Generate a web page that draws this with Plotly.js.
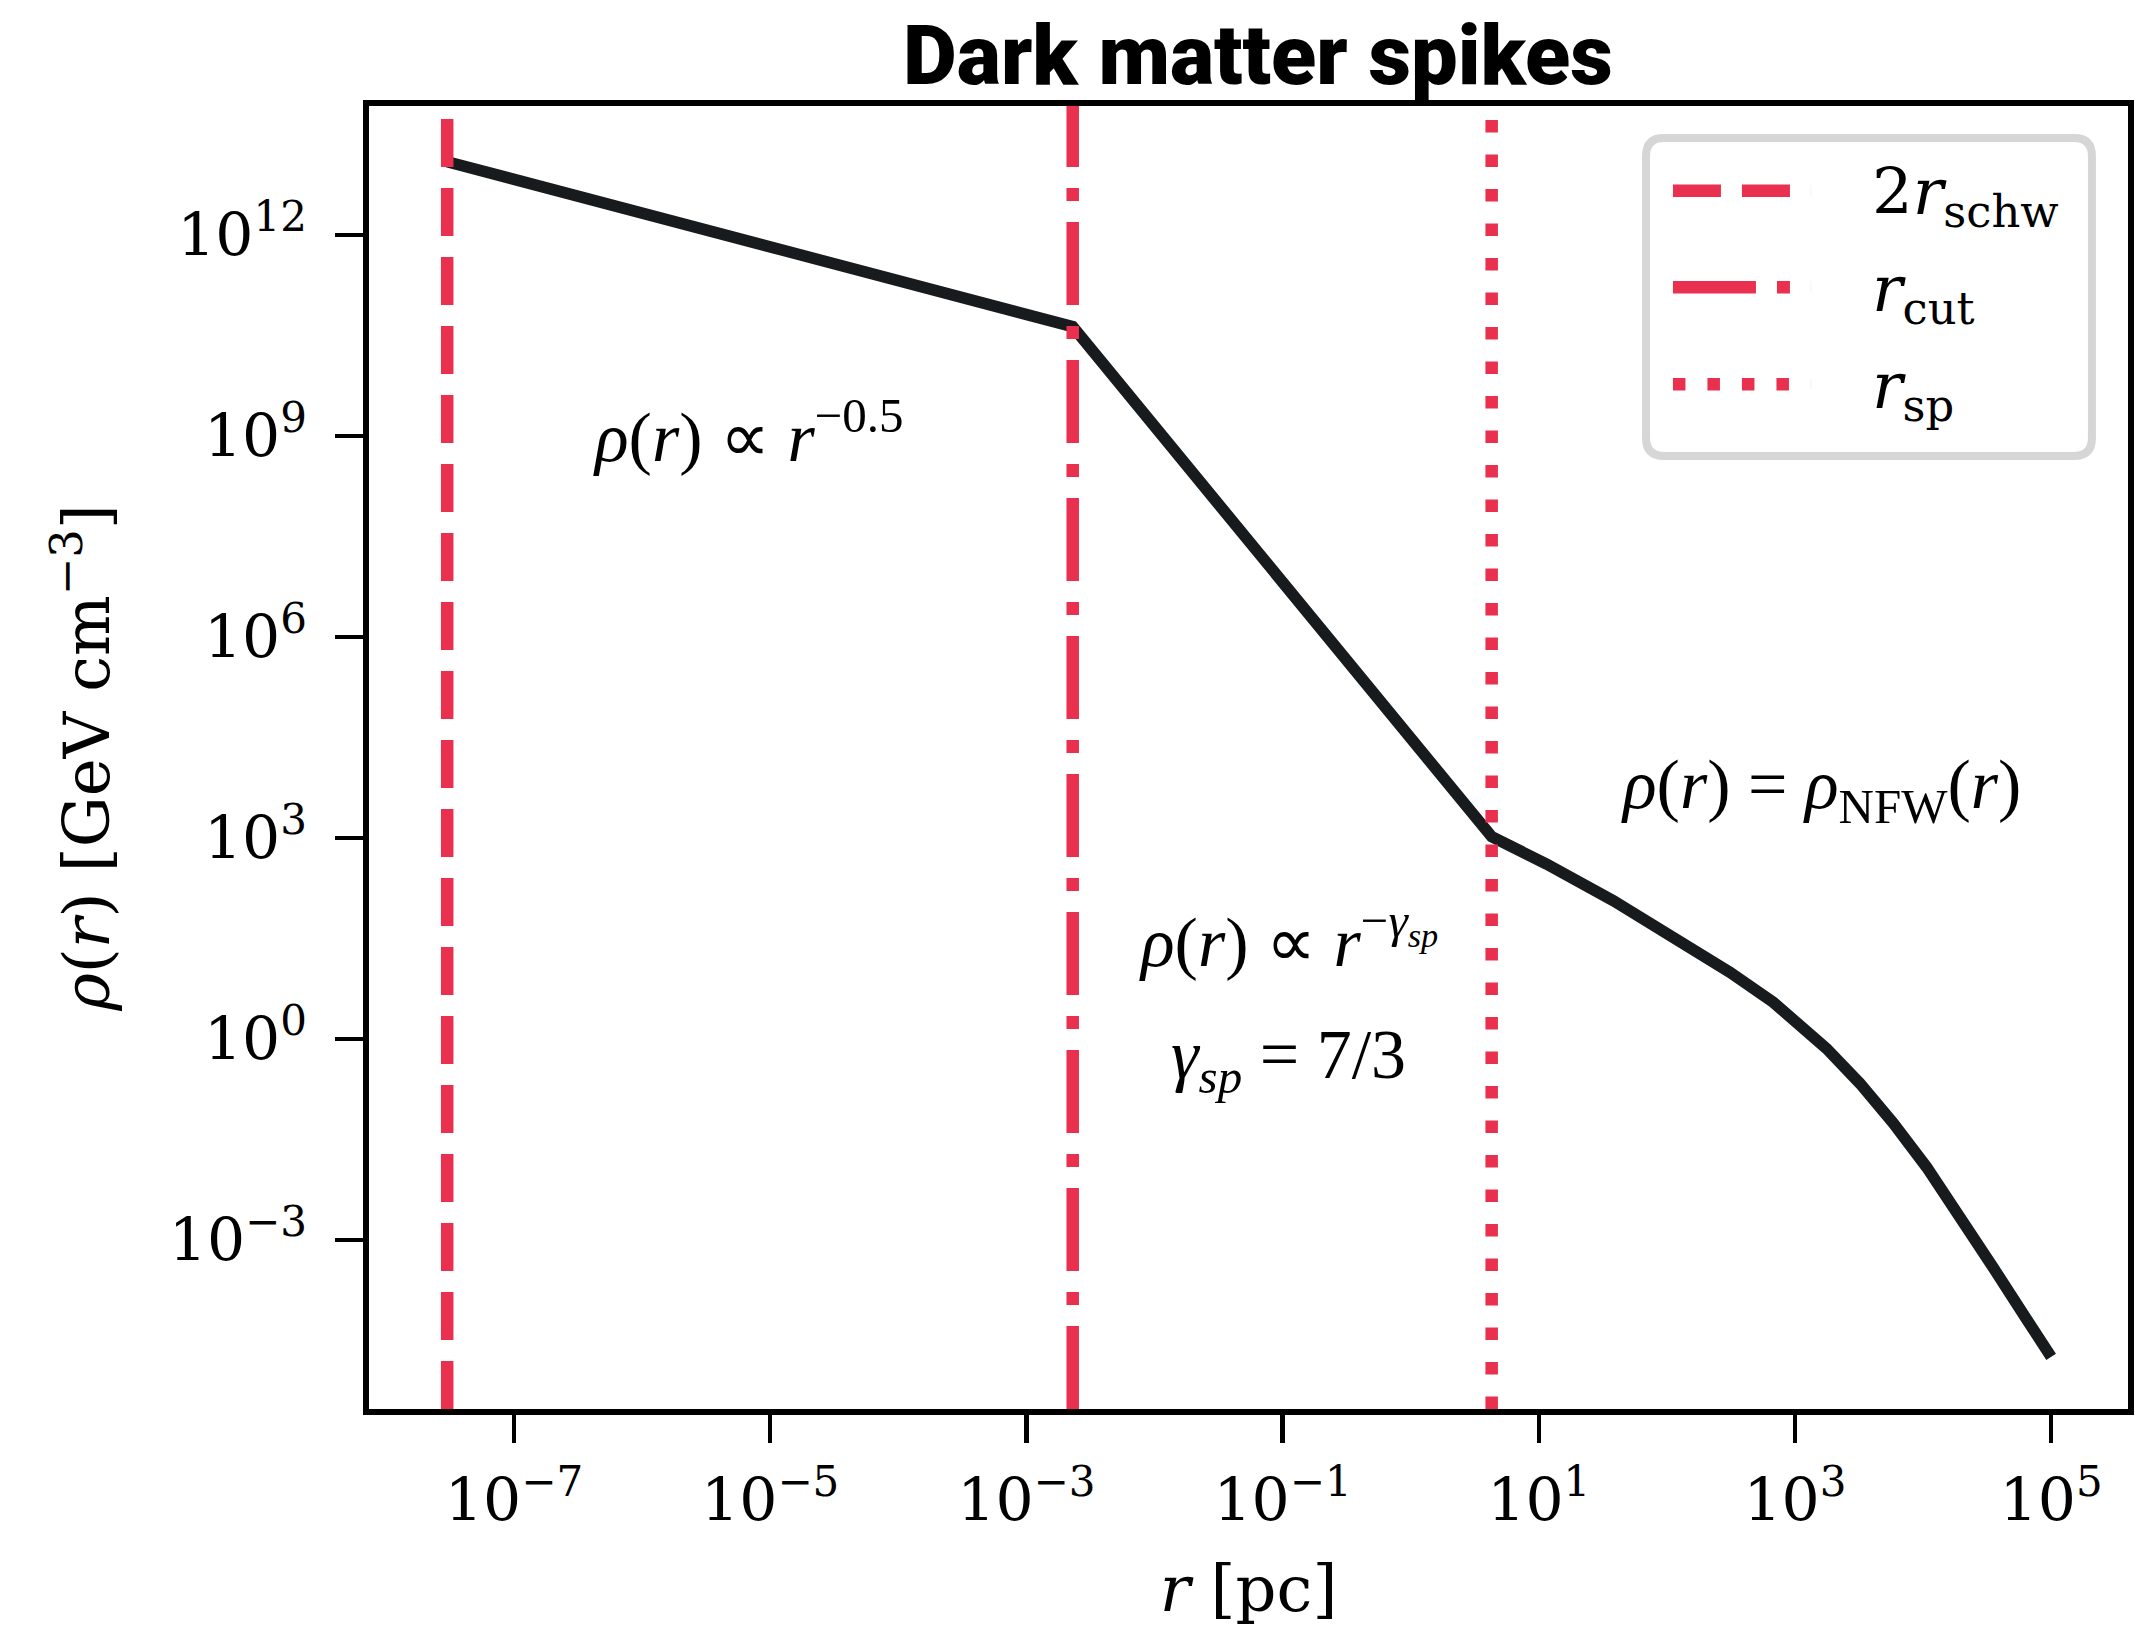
<!DOCTYPE html>
<html>
<head>
<meta charset="utf-8">
<script src="https://cdn.plot.ly/plotly-3.0.1.min.js"></script>
<style>
  html, body { margin: 0; padding: 0; background: #ffffff; }
  #chart { width: 2135px; height: 1638px; }
</style>
</head>
<body>
<div id="chart"></div>
<script>
// ---------------- data ----------------
const radius_pc = [3.01e-8, 2.30e-3, 4.29, 11.5, 38.2, 126.5, 311, 678, 970, 1766, 3214, 5848, 10666, 19410, 35320, 64420, 1e5];
const density_GeV_cm3 = [1.25e13, 4.31e10, 1052, 412, 116.7, 29.5, 9.98, 3.55, 2.04, 0.724, 0.219, 0.0562, 0.0123, 2.29e-3, 3.89e-4, 6.61e-5, 1.82e-5];

const markerNames = ['2<i>r</i><sub>schw</sub>', '<i>r</i><sub>cut</sub>', '<i>r</i><sub>sp</sub>'];
const markerRadii_pc = [3.01e-8, 2.30e-3, 4.29];

const xTickVals = [1e-7, 1e-5, 1e-3, 1e-1, 1e1, 1e3, 1e5];
const xTickText = ['10<sup>−7</sup>', '10<sup>−5</sup>', '10<sup>−3</sup>', '10<sup>−1</sup>', '10<sup>1</sup>', '10<sup>3</sup>', '10<sup>5</sup>'];
const yTickVals = [1e12, 1e9, 1e6, 1e3, 1e0, 1e-3];
const yTickText = ['10<sup>12</sup>', '10<sup>9</sup>', '10<sup>6</sup>', '10<sup>3</sup>', '10<sup>0</sup>', '10<sup>−3</sup>'];

const annotationTexts = [
  '<i>ρ</i>(<i>r</i>) ∝ <i>r</i><sup>−0.5</sup>',
  '<i>ρ</i>(<i>r</i>) ∝ <i>r</i><sup>−<i>γ<sub>sp</sub></i></sup>',
  '<i>γ<sub>sp</sub></i> = 7/3',
  '<i>ρ</i>(<i>r</i>) = <i>ρ</i><sub>NFW</sub>(<i>r</i>)'
];

// ---------------- styling ----------------
const RED = '#e9314f';
const CURVE = '#181b1d';
const SERIF = 'Liberation Serif, Times New Roman, serif';
const CMLIKE = 'DejaVu Serif, serif';
const dashStyles = ['48px,21px', '83px,21px,13px,21px', '12.5px,22px'];
const xRangeLog = [-8.132, 5.600];
const yRangeLog = [-5.519, 13.928];

const traces = [{
  x: radius_pc,
  y: density_GeV_cm3,
  mode: 'lines',
  line: { color: CURVE, width: 11.5 },
  showlegend: false,
  hoverinfo: 'skip'
}];

markerRadii_pc.forEach((r, i) => {
  traces.push({
    x: [r, r],
    y: [Math.pow(10, yRangeLog[0]), Math.pow(10, yRangeLog[1])],
    mode: 'lines',
    line: { color: RED, width: 12.5, dash: dashStyles[i] },
    showlegend: false,
    hoverinfo: 'skip'
  });
});

// manual legend (matplotlib-like rounded frame)
const lx0 = 0.7260, lx1 = 0.9795, lyb = 0.7314, lyt = 0.9754, rx = 0.01023, ry = 0.01381;
const framePath = `M ${lx0 + rx},${lyt} L ${lx1 - rx},${lyt} Q ${lx1},${lyt} ${lx1},${lyt - ry} ` +
  `L ${lx1},${lyb + ry} Q ${lx1},${lyb} ${lx1 - rx},${lyb} L ${lx0 + rx},${lyb} ` +
  `Q ${lx0},${lyb} ${lx0},${lyb + ry} L ${lx0},${lyt - ry} Q ${lx0},${lyt} ${lx0 + rx},${lyt} Z`;
const legendRows = [0.9350, 0.8609, 0.7864];
const handleX = [0.7413, 0.8198];
const labelX = 0.8533;

const shapes = [{
  type: 'path', xref: 'paper', yref: 'paper', path: framePath,
  fillcolor: '#ffffff', line: { color: '#d6d6d6', width: 8 }, layer: 'above'
}];
const annotations = [];
markerNames.forEach((name, i) => {
  shapes.push({
    type: 'line', xref: 'paper', yref: 'paper',
    x0: handleX[0], x1: handleX[1], y0: legendRows[i], y1: legendRows[i],
    line: { color: RED, width: 12.5, dash: dashStyles[i] }, layer: 'above'
  });
  annotations.push({
    xref: 'paper', yref: 'paper', x: labelX, y: legendRows[i],
    xanchor: 'left', yanchor: 'middle', yshift: -6, showarrow: false, text: name,
    font: { family: CMLIKE, size: 64, color: '#000' }
  });
});

const annPos = [[0.2160, 0.7498], [0.5225, 0.3622], [0.5225, 0.2678], [0.8255, 0.4751]];
annotationTexts.forEach((t, i) => {
  annotations.push({
    xref: 'paper', yref: 'paper', x: annPos[i][0], y: annPos[i][1],
    xanchor: 'center', yanchor: 'middle', showarrow: false, text: t,
    font: { family: SERIF, size: 70, color: '#000' }
  });
});

const axisCommon = {
  type: 'log',
  showgrid: false,
  zeroline: false,
  showline: true,
  linewidth: 6,
  linecolor: '#000',
  mirror: true,
  ticks: 'outside',
  ticklen: 28,
  tickwidth: 4.5,
  tickcolor: '#000',
  tickfont: { family: CMLIKE, size: 60, color: '#000' }
};

const layout = {
  width: 2135,
  height: 1638,
  paper_bgcolor: '#ffffff',
  plot_bgcolor: '#ffffff',
  margin: { l: 369, r: 7, t: 106, b: 229 },
  title: {
    text: 'Dark matter spikes',
    font: { family: 'Roboto, Inter, sans-serif', size: 83, weight: 900, color: '#000' },
    xref: 'paper', x: 0.5054, xanchor: 'center',
    yref: 'container', y: 0.9665, yanchor: 'middle'
  },
  xaxis: Object.assign({}, axisCommon, {
    range: xRangeLog,
    tickmode: 'array', tickvals: xTickVals, ticktext: xTickText,
    ticklabelstandoff: 6,
    title: { text: '<i>r</i> [pc]', font: { family: CMLIKE, size: 64, color: '#000' }, standoff: 34 }
  }),
  yaxis: Object.assign({}, axisCommon, {
    range: yRangeLog,
    tickmode: 'array', tickvals: yTickVals, ticktext: yTickText,
    ticklabelstandoff: 16,
    title: { text: '<i>ρ</i>(<i>r</i>) [GeV cm<sup>−3</sup>]', font: { family: CMLIKE, size: 64, color: '#000' }, standoff: 40 }
  }),
  shapes: shapes,
  annotations: annotations,
  showlegend: false
};

Plotly.newPlot('chart', traces, layout, { displayModeBar: false, staticPlot: true });
</script>
</body>
</html>
